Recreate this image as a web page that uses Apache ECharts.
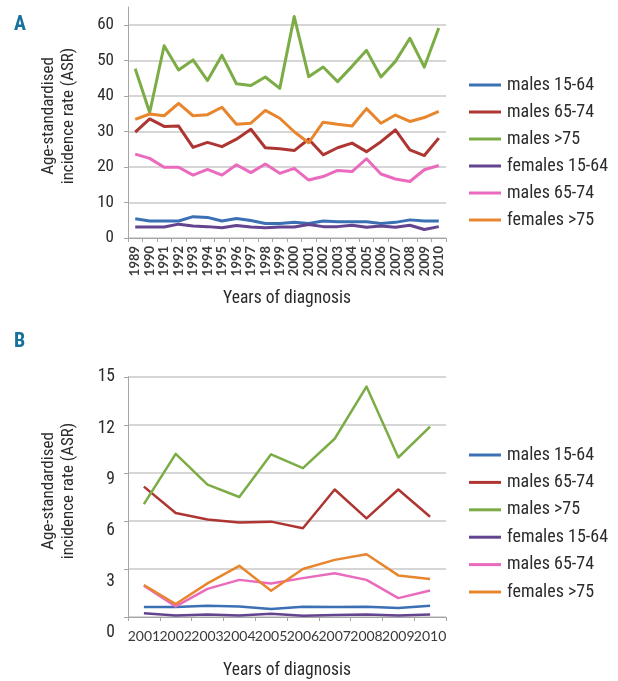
<!DOCTYPE html>
<html>
<head>
<meta charset="utf-8">
<script src="https://cdn.jsdelivr.net/npm/echarts@6/dist/echarts.min.js"></script>
<style>
  html, body { margin: 0; padding: 0; background: #ffffff; }
  #chart { width: 618px; height: 681px; }
</style>
</head>
<body>
<div id="chart"></div>
<script>
// Category axes
const yearsA = ['1989','1990','1991','1992','1993','1994','1995','1996','1997','1998','1999',
                '2000','2001','2002','2003','2004','2005','2006','2007','2008','2009','2010'];
const yearsB = ['2001','2002','2003','2004','2005','2006','2007','2008','2009','2010'];

// Legend labels, in series order
const seriesKeys = ['m1564', 'm6574', 'm75', 'f1564', 'f6574', 'f75'];
const seriesLabels = ['males 15-64', 'males 65-74', 'males >75', 'females 15-64', 'males 65-74', 'females >75'];

// Panel A: 1989-2010
const aMales1564   = [5.4,4.8,4.8,4.8,6.0,5.8,4.8,5.5,4.9,4.1,4.1,4.4,4.1,4.8,4.6,4.6,4.6,4.1,4.4,5.1,4.8,4.8];
const aMales6574   = [29.8,33.5,31.4,31.5,25.5,26.9,25.7,27.8,30.6,25.4,25.1,24.6,27.8,23.4,25.4,26.7,24.3,27.1,30.4,24.8,23.2,28.1];
const aMales75     = [47.6,35.3,54.1,47.3,50.1,44.3,51.4,43.4,42.9,45.3,42.1,62.3,45.4,48.1,44.0,48.3,52.8,45.3,49.7,56.2,48.1,59.1];
const aFemales1564 = [3.1,3.1,3.1,3.9,3.4,3.2,2.9,3.5,3.1,2.9,3.1,3.1,3.8,3.2,3.2,3.6,3.0,3.4,3.0,3.6,2.4,3.2];
const aFemales6574 = [23.6,22.4,19.9,19.9,17.7,19.3,17.7,20.6,18.4,20.8,18.2,19.6,16.3,17.3,19.0,18.7,22.3,18.0,16.6,15.9,19.2,20.4];
const aFemales75   = [33.4,34.9,34.4,37.9,34.4,34.7,36.8,32.0,32.3,35.9,33.7,29.9,26.8,32.6,32.0,31.5,36.4,32.3,34.6,32.8,33.9,35.6];

// Panel B: 2001-2010
const bMales1564   = [0.62,0.62,0.70,0.66,0.50,0.64,0.62,0.64,0.56,0.70];
const bMales6574   = [8.15,6.5,6.1,5.9,5.96,5.55,7.97,6.16,7.97,6.27];
const bMales75     = [7.05,10.2,8.27,7.5,10.17,9.3,11.14,14.4,9.97,11.9];
const bFemales1564 = [0.23,0.10,0.15,0.10,0.20,0.08,0.12,0.15,0.10,0.15];
const bFemales6574 = [1.95,0.66,1.76,2.32,2.1,2.43,2.74,2.32,1.18,1.66];
const bFemales75   = [2.0,0.81,2.1,3.2,1.64,3.0,3.57,3.92,2.6,2.37];

// Y-axis tick settings
const aYMax = 65, aYInterval = 10;
const bYMax = 15, bYInterval = 3;

const colors = ['#3c70b4', '#ae3632', '#7cac45', '#64438f', '#ea6bbd', '#e8862e'];
const narrow = "'Roboto Condensed', 'Liberation Sans Narrow', 'DejaVu Sans Condensed', sans-serif";
const textDark = '#2b2b2b';
const gridGray = '#c9c9c9';
const axisGray = '#a6a6a6';

const dataA = [aMales1564, aMales6574, aMales75, aFemales1564, aFemales6574, aFemales75];
const dataB = [bMales1564, bMales6574, bMales75, bFemales1564, bFemales6574, bFemales75];
const labelOf = Object.fromEntries(seriesKeys.map((k, i) => [k, seriesLabels[i]]));

function lineSeries(data, axisIndex, width) {
  return data.map((vals, i) => ({
    name: seriesKeys[i],
    type: 'line',
    xAxisIndex: axisIndex,
    yAxisIndex: axisIndex,
    data: vals,
    symbol: 'none',
    smooth: false,
    silent: true,
    lineStyle: { color: colors[i], width: width, join: 'round' },
    itemStyle: { color: colors[i] },
    z: 3
  }));
}

function legendAt(top, gap) {
  return {
    orient: 'vertical',
    left: 469,
    top: top,
    padding: 0,
    icon: 'rect',
    itemWidth: 32,
    itemHeight: 3,
    itemGap: gap,
    selectedMode: false,
    data: seriesKeys,
    formatter: name => labelOf[name],
    textStyle: { fontFamily: narrow, fontSize: 18, color: textDark, lineHeight: 18, padding: [0, 0, 0, 1] }
  };
}

function yTitle(x, y, text) {
  return { type: 'text', x: x, y: y, rotation: Math.PI / 2,
    style: { text: text, font: "17px " + narrow, fill: textDark, align: 'center', verticalAlign: 'middle' } };
}

const chart = echarts.init(document.getElementById('chart'), null, { renderer: 'canvas' });

chart.setOption({
  animation: false,
  backgroundColor: '#ffffff',
  color: colors,
  grid: [
    { left: 128, top: 7, width: 318, height: 231, containLabel: false },
    { left: 128, top: 377, width: 318, height: 242, containLabel: false },
    // tick-label track for panel B
    { left: 128, top: 377, width: 318, height: 256, containLabel: false }
  ],
  xAxis: [
    {
      gridIndex: 0, type: 'category', data: yearsA, boundaryGap: true,
      name: 'Years of diagnosis', nameLocation: 'middle', nameGap: 52,
      nameTextStyle: { fontFamily: narrow, fontSize: 17.5, color: textDark },
      axisLine: { show: true, lineStyle: { color: axisGray, width: 1 } },
      axisTick: { show: true, alignWithLabel: false, length: 4, lineStyle: { color: axisGray } },
      axisLabel: { interval: 0, rotate: 90, margin: 8, fontFamily: 'Lato, sans-serif', fontSize: 13, fontWeight: 'bold', color: '#3a3a3a' },
      splitLine: { show: false }
    },
    {
      gridIndex: 1, type: 'category', data: yearsB, boundaryGap: true,
      name: 'Years of diagnosis', nameLocation: 'middle', nameGap: 45,
      nameTextStyle: { fontFamily: narrow, fontSize: 17.5, color: textDark },
      axisLine: { show: true, lineStyle: { color: axisGray, width: 1 } },
      axisTick: { show: true, length: 4, lineStyle: { color: axisGray } },
      axisLabel: { interval: 0, margin: 12, fontFamily: 'Lato, sans-serif', fontSize: 14, color: '#3a3a3a' },
      splitLine: { show: false }
    },
    { gridIndex: 2, type: 'category', data: yearsB, show: false }
  ],
  yAxis: [
    {
      gridIndex: 0, type: 'value', min: 0, max: aYMax, interval: aYInterval,
      axisLine: { show: true, lineStyle: { color: axisGray, width: 1 } },
      axisTick: { show: true, length: 4, lineStyle: { color: axisGray } },
      axisLabel: { showMaxLabel: false, margin: 14, fontFamily: narrow, fontSize: 17, color: textDark },
      splitLine: { show: true, showMaxLine: false, lineStyle: { color: gridGray, width: 1.5 } }
    },
    {
      gridIndex: 1, type: 'value', min: 0, max: bYMax, interval: bYInterval,
      axisLine: { show: true, lineStyle: { color: axisGray, width: 1 } },
      axisTick: { show: true, length: 4, lineStyle: { color: axisGray } },
      axisLabel: { show: false },
      splitLine: { show: true, lineStyle: { color: gridGray, width: 1.5 } }
    },
    {
      gridIndex: 2, type: 'value', min: 0, max: bYMax, interval: bYInterval,
      axisLine: { show: false }, axisTick: { show: false }, splitLine: { show: false },
      axisLabel: { margin: 13, fontFamily: narrow, fontSize: 17.5, color: textDark }
    }
  ],
  legend: [legendAt(76, 9), legendAt(446, 9.4)],
  graphic: [
    { type: 'text', left: 14, top: 15, style: { text: 'A', font: "bold 20px " + narrow, fill: '#16729c' } },
    { type: 'text', left: 14, top: 332, style: { text: 'B', font: "bold 20px " + narrow, fill: '#16729c' } },
    yTitle(49, 116, 'Age-standardised'),
    yTitle(69, 116, 'incidence rate (ASR)'),
    yTitle(49, 491, 'Age-standardised'),
    yTitle(69, 491, 'incidence rate (ASR)')
  ],
  series: [].concat(lineSeries(dataA, 0, 3), lineSeries(dataB, 1, 2.5))
});
</script>
</body>
</html>
